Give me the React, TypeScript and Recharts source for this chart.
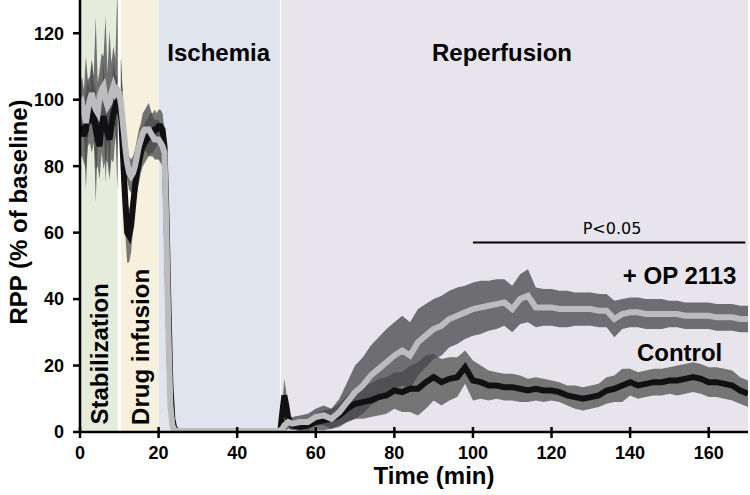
import {
  ComposedChart,
  Area,
  Line,
  XAxis,
  YAxis,
  ReferenceArea,
  ReferenceLine,
  ReferenceDot,
} from "recharts";

// time points (min)
const time = [
  0, 0.5, 1, 1.5, 2, 2.5, 3, 3.5, 4, 4.5, 5, 5.5, 6, 6.5, 7, 7.5, 8, 8.5, 9, 9.5, 10,
  10.5, 11, 11.5, 12, 12.5, 13, 13.5, 14, 14.5, 15, 15.5, 16, 16.5, 17, 17.5, 18, 18.5, 19, 19.5, 20,
  20.5, 21, 21.5, 22, 22.5, 23, 23.5, 24,
  25, 30, 35, 40, 45, 50, 51,
  51.5, 52, 52.5, 53, 54,
  56, 58, 60, 62, 64, 66, 68, 70, 72, 74,
  76, 78, 80, 82, 84, 86, 88, 90, 92, 94,
  96, 98, 100, 102, 104, 106, 108, 110, 112, 114,
  116, 118, 120, 122, 124, 126, 128, 130, 132, 134,
  136, 138, 140, 142, 144, 146, 148, 150, 152, 154,
  156, 158, 160, 162, 164, 166, 168, 170,
];

// + OP 2113 mean and SEM
const opMean = [
  98, 99, 96, 93, 97, 100, 102, 99, 97, 96, 101, 103, 104, 100, 98, 99, 102, 104, 102, 103, 102,
  98, 92, 86, 81, 78, 77, 78, 80, 83, 86, 88, 90, 91, 91, 91, 90, 89, 88, 88, 88,
  87, 86, 84, 60, 30, 8, 2, 0.5,
  0.3, 0.3, 0.3, 0.3, 0.3, 0.3, 0.5,
  1, 2, 2.5, 3, 2.5,
  3, 3, 4.5, 5, 4, 6, 9, 12, 14, 17,
  19, 21, 23, 24.5, 23, 27, 29, 31, 32, 34,
  35, 36, 37, 37.5, 38, 38.5, 39, 37, 40, 41,
  37.5, 37.5, 37.5, 37, 37, 37, 37, 37, 36.5, 36.5,
  34, 35.5, 36, 36, 35.5, 35.5, 35.5, 35.5, 35.5, 35,
  35, 35, 35, 34.5, 34.5, 34.5, 34, 34,
];
const opSem = [
  6, 8, 7, 20, 9, 7, 10, 8, 28, 9, 8, 11, 9, 25, 10, 22, 9, 12, 10, 30, 12,
  12, 8, 6, 5, 5, 5, 5, 5, 5, 5, 5, 6, 6, 7, 8, 7, 6, 6, 6, 6,
  6, 6, 5, 4, 3, 2, 1, 0.5,
  0.3, 0.3, 0.3, 0.3, 0.3, 0.3, 0.5,
  1, 1.5, 2, 2, 2,
  2, 2.5, 2.5, 3, 3, 4, 6, 8, 8.5, 9,
  9.5, 10, 10, 10.5, 10, 10, 9.5, 9, 9, 8.5,
  8.5, 8, 8, 8, 7.5, 7.5, 7, 7, 7.5, 8,
  6, 5.5, 5.5, 5.5, 5.5, 5, 5, 5, 5, 5,
  5.5, 4.5, 4.5, 4.5, 4.5, 4.5, 4.5, 4, 4, 4,
  4, 4, 4, 4, 4, 4, 4, 4,
];

// Control mean and SEM
const ctlMean = [
  90, 92, 89, 91, 96, 95, 98, 96, 91, 88, 86, 93, 95, 92, 90, 88, 92, 96, 98, 96, 100,
  94, 82, 70, 60, 59, 62, 68, 74, 78, 81, 84, 86, 87, 88, 89, 90, 90, 91, 91, 92,
  92, 91, 86, 65, 38, 14, 4, 1,
  0.3, 0.3, 0.3, 0.3, 0.3, 0.3, 0.5,
  6, 11, 8, 4, 2,
  1.5, 2, 3, 3.5, 4, 5, 7, 8.5, 9, 9.5,
  10.5, 11, 12.5, 12, 13, 13, 15, 16.5, 15, 16,
  16.5, 19.5, 15.5, 15, 14, 14, 13.5, 13.5, 13, 12.5,
  13, 12.5, 12.5, 12, 11, 10.5, 10, 10.5, 11, 12.5,
  13, 14, 15, 14, 14.5, 15, 15, 15.5, 15.5, 16,
  16.5, 16, 15, 15, 14.5, 14, 12.5, 11.5,
];
const ctlSem = [
  7, 9, 8, 12, 10, 8, 14, 9, 12, 8, 10, 9, 16, 10, 9, 12, 10, 15, 9, 11, 12,
  18, 12, 10, 9, 8, 8, 7, 7, 6, 6, 6, 6, 6, 6, 6, 6, 6, 6, 5, 5,
  5, 5, 5, 4, 3, 2, 1, 0.5,
  0.3, 0.3, 0.3, 0.3, 0.3, 0.3, 0.5,
  3, 5, 4, 2, 1,
  1.5, 2, 2.5, 3, 3, 3.5, 4, 4.5, 5, 5,
  5.5, 5.5, 5.5, 6, 7, 8, 8, 7, 7, 6.5,
  6, 5, 6, 5, 4.5, 4, 4, 4, 4, 3.5,
  3.5, 3.5, 3, 3, 3, 3.5, 3.5, 3.5, 3.5, 4,
  4, 5, 4, 4, 4, 4, 4, 4, 4.5, 4.5,
  4.5, 4.5, 4.5, 4.5, 4.5, 4.5, 4, 4,
];

const xTicks = [0, 20, 40, 60, 80, 100, 120, 140, 160];
const yTicks = [0, 20, 40, 60, 80, 100, 120];

const phases = [
  { from: 0, to: 10, fill: "#e5ecdc" },
  { from: 10, to: 20, fill: "#f6f0dd" },
  { from: 20, to: 51, fill: "#dfe4ee" },
  { from: 51, to: 170, fill: "#e7e4ec" },
];

const data = time.map((t, i) => ({
  t,
  op: opMean[i],
  opBand: [Math.max(0, opMean[i] - opSem[i]), opMean[i] + opSem[i]],
  ctl: ctlMean[i],
  ctlBand: [Math.max(0, ctlMean[i] - ctlSem[i]), ctlMean[i] + ctlSem[i]],
}));

const font = "'Liberation Sans', Arial, sans-serif";
const bold = { fill: "#000", fontSize: 24, fontWeight: 700, fontFamily: font };

// x ticks cross the axis line; the axis title rides along with the first tick
function XTick({ x, y, payload }: any) {
  const axisY = y - 15;
  return (
    <g>
      <line x1={x} x2={x} y1={axisY - 5} y2={axisY + 6} stroke="#000" strokeWidth={2.5} />
      <text x={x} y={axisY + 27} textAnchor="middle" fill="#000" fontSize={18} fontWeight={700} fontFamily={font}>
        {payload.value}
      </text>
      {payload.value === 0 && (
        <text x={434} y={axisY + 52} textAnchor="middle" {...bold}>
          Time (min)
        </text>
      )}
    </g>
  );
}

export default function App() {
  return (
    <div style={{ position: "absolute", left: 0, top: 0, width: 750, height: 495 }}>
      <ComposedChart width={750} height={495} data={data} margin={{ top: 0, right: 2, bottom: 0, left: 0 }}>
        {phases.map((p) => (
          <ReferenceArea key={p.from} x1={p.from} x2={p.to} y1={0} y2={130} fill={p.fill} fillOpacity={1} stroke="none" />
        ))}
        <ReferenceLine x={10} stroke="#fff" strokeWidth={3} />
        <ReferenceLine x={51} stroke="#fff" strokeWidth={1} />
        <XAxis
          dataKey="t"
          type="number"
          domain={[0, 170]}
          ticks={xTicks}
          allowDataOverflow
          height={63}
          tickSize={6}
          tickMargin={9}
          tickLine={false}
          axisLine={{ stroke: "#000", strokeWidth: 2.5 }}
          tick={<XTick />}
        />
        <YAxis
          type="number"
          domain={[0, 130]}
          ticks={yTicks}
          allowDataOverflow
          width={80}
          tickSize={7}
          tickMargin={9}
          tickLine={{ stroke: "#000", strokeWidth: 2.5 }}
          axisLine={{ stroke: "#000", strokeWidth: 2.5 }}
          tick={{ fill: "#000", fontSize: 18, fontWeight: 700, fontFamily: font }}
          label={{
            content: ({ viewBox }: any) => (
              <text
                x={viewBox.x + 18}
                y={212}
                transform={`rotate(-90 ${viewBox.x + 18} 212)`}
                textAnchor="middle"
                dominantBaseline="central"
                {...bold}
              >
                RPP (% of baseline)
              </text>
            ),
          }}
        />
        <Area dataKey="ctlBand" stroke="none" fill="#4a4a46" fillOpacity={0.72} isAnimationActive={false} />
        <Area dataKey="opBand" stroke="none" fill="#46464a" fillOpacity={0.75} isAnimationActive={false} />
        <Line dataKey="ctl" stroke="#111114" strokeWidth={6} dot={false} isAnimationActive={false} />
        <Line dataKey="op" stroke="#bcbcbf" strokeWidth={6} dot={false} isAnimationActive={false} />
        <ReferenceLine segment={[{ x: 100, y: 57 }, { x: 169.3, y: 57 }]} stroke="#000" strokeWidth={2} />
        <ReferenceDot x={135.4} y={61.2} r={0} stroke="none"
          label={{ value: "P<0.05", position: "center", fill: "#000", fontSize: 16, fontFamily: "'DejaVu Sans', sans-serif" }} />
        <ReferenceDot x={35.3} y={114.2} r={0} stroke="none" label={{ value: "Ischemia", position: "center", ...bold }} />
        <ReferenceDot x={107.4} y={114.2} r={0} stroke="none" label={{ value: "Reperfusion", position: "center", ...bold }} />
        <ReferenceDot x={152.6} y={47} r={0} stroke="none" label={{ value: "+ OP 2113", position: "center", ...bold }} />
        <ReferenceDot x={152.6} y={24} r={0} stroke="none" label={{ value: "Control", position: "center", ...bold }} />
        <ReferenceDot x={5} y={23.5} r={0} stroke="none" label={{ value: "Stabilization", position: "center", angle: -90, ...bold }} />
        <ReferenceDot x={15.3} y={25.6} r={0} stroke="none" label={{ value: "Drug infusion", position: "center", angle: -90, ...bold }} />
      </ComposedChart>
    </div>
  );
}
